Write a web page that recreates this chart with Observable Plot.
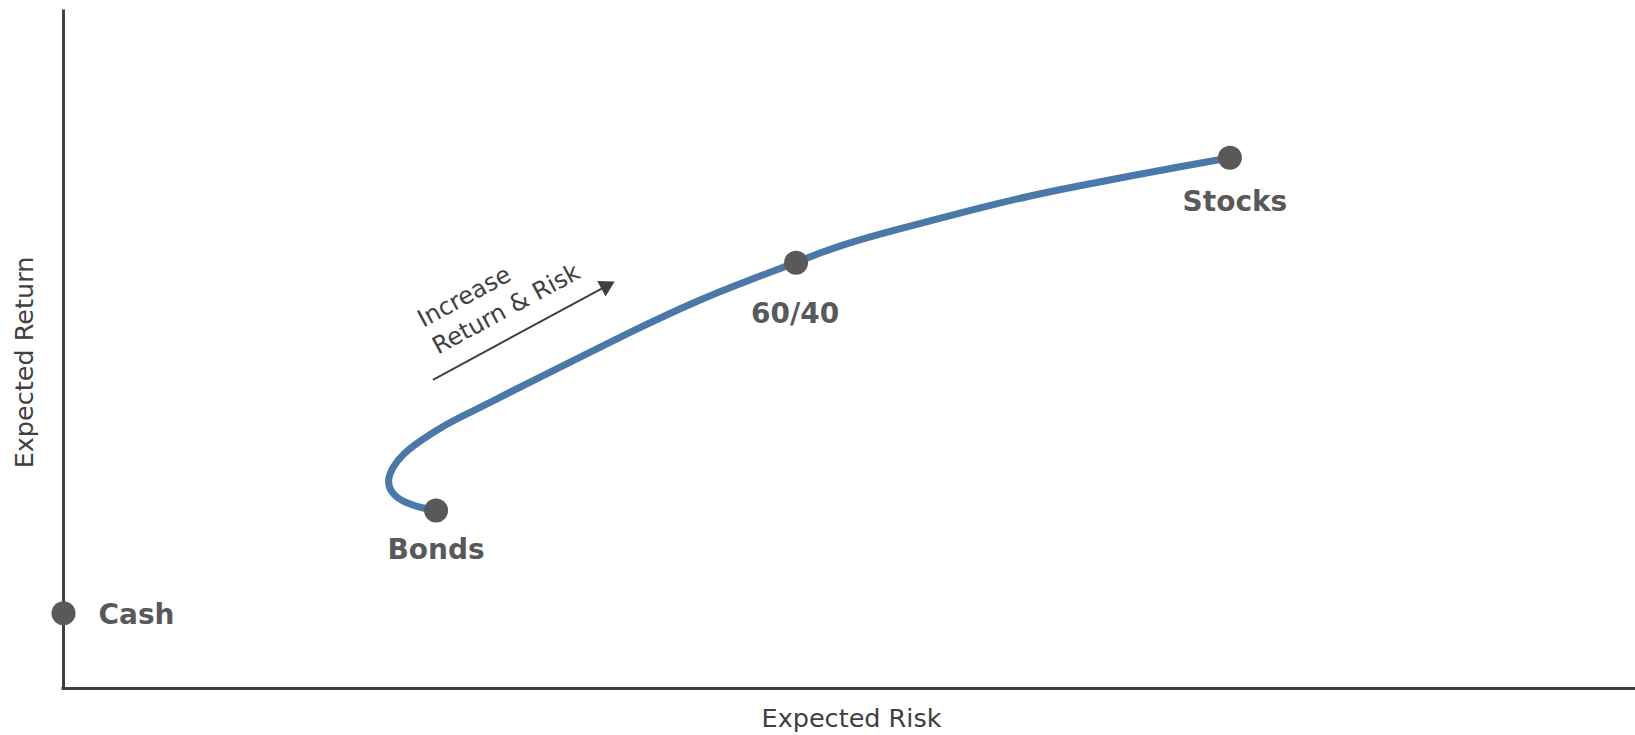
<!DOCTYPE html>
<html>
<head>
<meta charset="utf-8">
<script src="https://cdn.jsdelivr.net/npm/d3@7"></script>
<script src="https://cdn.jsdelivr.net/npm/@observablehq/plot@0.6"></script>
<style>
  html, body { margin: 0; padding: 0; background: #fff; }
</style>
</head>
<body>
<div id="chart"></div>
<script>
// Efficient frontier curve (relative units, 0–100)
const frontierRisk   = [23.7, 22.9, 21.6, 20.8, 20.6, 20.9, 21.6, 22.7, 24.0, 25.7, 27.0, 29.7, 32.9, 36.1, 40.3, 43.7, 46.6, 48.8, 52.0, 55.2, 58.3, 61.5, 64.7, 68.1, 71.1, 74.2];
const frontierReturn = [26.3, 26.6, 27.5, 29.0, 30.7, 32.6, 34.7, 36.6, 38.6, 40.6, 42.1, 45.3, 49.0, 52.7, 57.3, 60.4, 62.9, 65.0, 67.2, 69.1, 71.0, 72.8, 74.3, 75.8, 77.1, 78.4];

// Portfolios
const assetNames  = ["Cash", "Bonds", "60/40", "Stocks"];
const assetRisk   = [0, 23.7, 46.6, 74.2];
const assetReturn = [11.1, 26.3, 62.9, 78.4];

// Annotation arrow
const arrowRisk   = [23.5, 34.5];
const arrowReturn = [45.6, 59.4];
const arrowText   = "Increase\nReturn & Risk";

const axisLabelX = "Expected Risk";
const axisLabelY = "Expected Return";

const frontier = frontierRisk.map((x, i) => ({x, y: frontierReturn[i]}));
const assets = assetNames.map((name, i) => ({name, x: assetRisk[i], y: assetReturn[i]}));
const arrow = [{x1: arrowRisk[0], y1: arrowReturn[0], x2: arrowRisk[1], y2: arrowReturn[1]}];
const byName = n => assets.filter(d => d.name === n);

const labelStyle = {x: "x", y: "y", text: "name", fill: "#595959", fontWeight: "bold", fontSize: 28};
const angle = Math.atan2(-(arrowReturn[1] - arrowReturn[0]) * 6.77, (arrowRisk[1] - arrowRisk[0]) * 15.72) * 180 / Math.PI;

const chart = Plot.plot({
  width: 1635,
  height: 735,
  marginLeft: 63,
  marginRight: 0,
  marginTop: 11,
  marginBottom: 47,
  x: {domain: [0, 100], axis: null},
  y: {domain: [0, 100], axis: null},
  style: {fontFamily: "'DejaVu Sans', Verdana, sans-serif", background: "white", overflow: "visible"},
  marks: [
    Plot.ruleY([0], {stroke: "#404040", strokeWidth: 3, strokeLinecap: "square"}),
    Plot.ruleX([0], {stroke: "#404040", strokeWidth: 3, strokeLinecap: "square"}),
    Plot.line(frontier, {x: "x", y: "y", curve: "basis", stroke: "#4a79a9", strokeWidth: 7}),
    Plot.dot(assets, {x: "x", y: "y", r: 12, fill: "#595959", stroke: "none"}),
    Plot.text(byName("Cash"), {...labelStyle, textAnchor: "start", dx: 35, dy: 2}),
    Plot.text(byName("Bonds"), {...labelStyle, dy: 40}),
    Plot.text(byName("60/40"), {...labelStyle, dy: 51, dx: -1}),
    Plot.text(byName("Stocks"), {...labelStyle, dy: 44, dx: 5}),
    Plot.link(arrow, {x1: "x1", y1: "y1", x2: "x2", y2: "y2", stroke: "#404040", strokeWidth: 2}),
    Plot.dot(arrow, {x: "x2", y: "y2", symbol: "triangle", r: 6.5, fill: "#404040", stroke: "none", rotate: 90 + angle}),
    Plot.text(arrow, {x: "x1", y: "y1", text: () => arrowText, textAnchor: "start", lineAnchor: "bottom",
      lineHeight: 1.28, rotate: angle, fontSize: 24, fill: "#404040", dx: 5, dy: -25}),
    Plot.text([axisLabelX], {frameAnchor: "bottom", textAnchor: "middle", dx: 2, dy: 38, fontSize: 25.5, fill: "#404040"}),
    Plot.text([axisLabelY], {frameAnchor: "left", textAnchor: "middle", rotate: -90, dx: -39, dy: 12.5, fontSize: 25.5, fill: "#404040"})
  ]
});
document.getElementById("chart").appendChild(chart);
</script>
</body>
</html>
